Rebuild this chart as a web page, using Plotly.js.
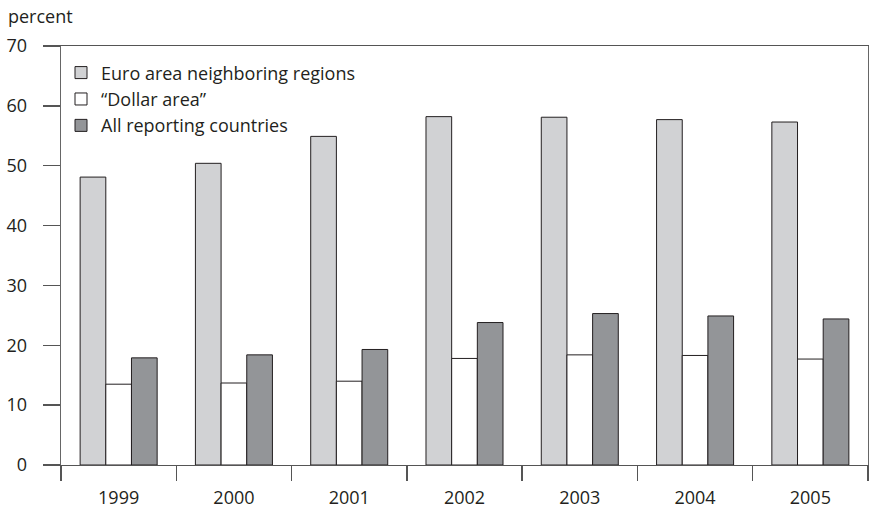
<!DOCTYPE html>
<html>
<head>
<meta charset="utf-8">
<script src="https://cdn.plot.ly/plotly-3.0.1.min.js"></script>
<style>html,body{margin:0;padding:0;background:#fff;}#chart{width:869px;height:515px;}</style>
</head>
<body>
<div id="chart"></div>
<script>
var years = ["1999", "2000", "2001", "2002", "2003", "2004", "2005"];
var euroArea = [48.1, 50.4, 54.9, 58.2, 58.1, 57.7, 57.3];
var dollarArea = [13.5, 13.7, 14.0, 17.8, 18.4, 18.3, 17.7];
var allReporting = [17.9, 18.4, 19.3, 23.8, 25.3, 24.9, 24.4];
var seriesNames = ["Euro area neighboring regions", "\u201cDollar area\u201d", "All reporting countries"];
var yTicks = [0, 10, 20, 30, 40, 50, 60, 70];

var FONT = "Open Sans, Noto Sans, sans-serif";
var FS = 18;
var lineStyle = {color: "#231f20", width: 1};

var traces = [
  {type: "bar", x: years, y: euroArea, name: seriesNames[0], marker: {color: "#d1d2d4", line: lineStyle}},
  {type: "bar", x: years, y: dollarArea, name: seriesNames[1], marker: {color: "#ffffff", line: lineStyle}},
  {type: "bar", x: years, y: allReporting, name: seriesNames[2], marker: {color: "#939598", line: lineStyle}}
];

var layout = {
  width: 869, height: 515,
  margin: {l: 61, r: 1, t: 46, b: 50},
  paper_bgcolor: "#fff", plot_bgcolor: "#fff",
  font: {family: FONT, size: FS, color: "#231f20"},
  barmode: "group",
  bargap: 0.332,
  bargroupgap: 0,
  showlegend: true,
  legend: {
    x: 0.0, y: 0.98, xanchor: "left", yanchor: "top",
    bgcolor: "rgba(0,0,0,0)", borderwidth: 0,
    font: {family: FONT, size: FS, color: "#231f20"},
    tracegroupgap: 0, traceorder: "normal"
  },
  xaxis: {
    type: "category",
    showgrid: false, zeroline: false,
    showline: true, linecolor: "#555", linewidth: 1.3,
    mirror: true,
    ticks: "outside", tickson: "boundaries", ticklen: 15, tickcolor: "#555", tickwidth: 1.3,
    tickfont: {family: FONT, size: FS, color: "#231f20"},
    ticklabelstandoff: 16
  },
  yaxis: {
    range: [0, 70],
    tickvals: yTicks,
    showgrid: false, zeroline: false,
    showline: true, linecolor: "#666", linewidth: 1.3,
    mirror: true,
    ticks: "outside", ticklen: 17, tickcolor: "#555", tickwidth: 1.3,
    tickfont: {family: FONT, size: FS, color: "#231f20"},
    ticklabelstandoff: 12
  },
  annotations: [
    {text: "percent", xref: "paper", yref: "paper", x: -61/807 + 6/807, y: 1 + 30/419, xanchor: "left", yanchor: "middle",
     showarrow: false, font: {family: FONT, size: FS, color: "#231f20"}}
  ]
};

Plotly.newPlot("chart", traces, layout, {displayModeBar: false, staticPlot: true});
</script>
</body>
</html>
